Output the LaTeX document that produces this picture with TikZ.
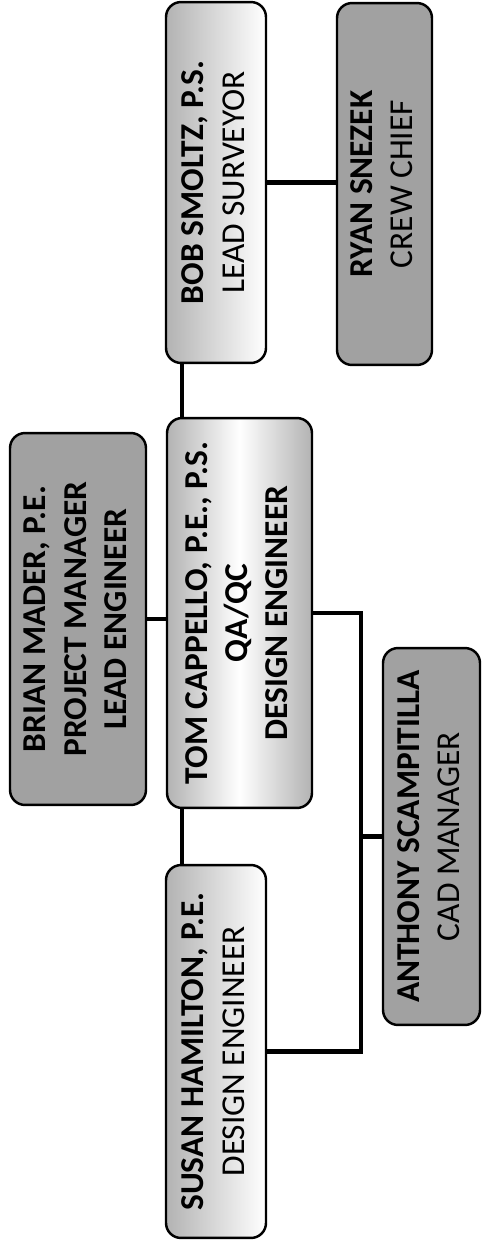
\documentclass[tikz,border=0pt]{standalone}
\usepackage{fontspec}
\setmainfont{Carlito}
\usepackage{tikz}
\usetikzlibrary{positioning,calc}
\colorlet{colorDark}{black!37}
\colorlet{colorLight}{black!30}
\colorlet{colorLine}{black}
\tikzset{
   box/.style={draw=colorLine,line width=1.4pt,rounded corners=0.3cm,inner sep=0pt,font=\fontsize{19}{22.8}\selectfont},
   darkbox/.style={box,fill=colorDark},
   lightbox/.style={box,left color=colorLight,right color=white},
   midbox/.style={box,left color=colorLight,right color=colorLight,middle color=white},
   link/.style={draw=colorLine,line width=2.4pt},
}
\newcommand{\sidetext}[1]{\rotatebox{90}{\begin{tabular}{@{}c@{}}#1\end{tabular}}}

\begin{document}
\begin{tikzpicture}[x=0.02cm,y=-0.02cm]

\useasboundingbox (0,0) rectangle (481,1251);

% =========================================================
% top row
% =========================================================

\node[lightbox,minimum width=2cm,minimum height=7.22cm] (bob) at (216,182.5)
{\sidetext{\textbf{BOB SMOLTZ, P.S.}\\ LEAD SURVEYOR}};

\node[darkbox,minimum width=1.9cm,minimum height=7.24cm] (ryan) at (384.5,184)
{\sidetext{\textbf{RYAN SNEZEK}\\ CREW CHIEF}};


% =========================================================
% middle row
% =========================================================

\node[darkbox,minimum width=2.72cm,minimum height=7.44cm] (brian) at (78,619)
{\sidetext{\textbf{BRIAN MADER, P.E.}\\ \textbf{PROJECT MANAGER}\\ \textbf{LEAD ENGINEER}}};

\node[midbox,minimum width=2.9cm,minimum height=7.8cm] (tom) at (239.5,613)
{\sidetext{\textbf{TOM CAPPELLO, P.E., P.S.}\\ \textbf{QA/QC}\\ \textbf{DESIGN ENGINEER}}};

\node[darkbox,minimum width=1.94cm,minimum height=7.54cm] (anthony) at (431.5,836.5)
{\sidetext{\textbf{ANTHONY SCAMPITILLA}\\ CAD MANAGER}};


% =========================================================
% bottom row
% =========================================================

\node[lightbox,minimum width=2cm,minimum height=7.46cm] (susan) at (216,1051.5)
{\sidetext{\textbf{SUSAN HAMILTON, P.E.}\\ DESIGN ENGINEER}};


% connectors
\coordinate (bus) at (361,617);

\draw[link] (bob.east) -- (bob.east -| ryan.west);
\draw[link] ([xshift=0.34cm]bob.south west) -- ([xshift=0.34cm]bob.south west |- tom.north);
\draw[link] ([xshift=0.34cm]susan.north west) -- ([xshift=0.34cm]susan.north west |- tom.south);
\draw[link] (brian.east) -- (brian.east -| tom.west);
\draw[link] (tom.east) -- (tom.east -| bus) |- (susan.east);
\draw[link] (anthony.west) -- (anthony.west -| bus);

\end{tikzpicture}
\end{document}
